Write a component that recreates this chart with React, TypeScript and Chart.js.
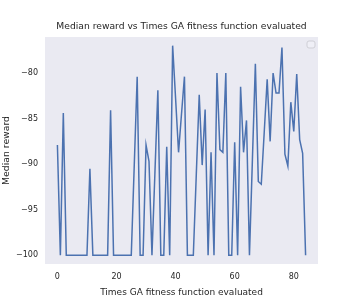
import React, { useEffect, useRef } from "react";
import { Chart, registerables } from "chart.js";

Chart.register(...registerables);

const TITLE = "Median reward vs Times GA fitness function evaluated";
const X_LABEL = "Times GA fitness function evaluated";
const Y_LABEL = "Median reward";
const X_TICKS = [0, 20, 40, 60, 80];
const Y_TICKS = [-100, -95, -90, -85, -80];
const Y_RANGE = [-100.95, -76.05];
const MEDIAN_REWARD = [
  -87.9, -100, -84.4, -100, -100, -100, -100, -100, -100, -100,
  -100, -90.5, -100, -100, -100, -100, -100, -100, -84.1, -100,
  -100, -100, -100, -100, -100, -100, -90.2, -80.4, -100, -100,
  -87.9, -89.7, -100, -91.0, -81.9, -100, -100, -88.1, -100, -77.0,
  -82.8, -88.7, -84.5, -80.4, -100, -100, -100, -91.2, -82.4, -90.1,
  -84.0, -100, -88.7, -100, -80.0, -88.4, -88.7, -80.0, -100, -100,
  -87.6, -100, -81.5, -88.7, -85.2, -100, -89.5, -79.0, -91.9, -92.2,
  -86.5, -80.7, -87.5, -80.0, -82.2, -82.2, -77.2, -88.9, -90.2, -83.2,
  -86.4, -80.1, -87.3, -88.8, -100,
];

const FONT = "'DejaVu Sans', sans-serif";
const TEXT = "#262626";

export default function App() {
  const ref = useRef<HTMLCanvasElement | null>(null);

  useEffect(() => {
    const canvas = ref.current;
    if (!canvas) return;
    const xSpan = MEDIAN_REWARD.length - 1;

    const bgPlugin = {
      id: "bg",
      beforeDraw(chart: any) {
        const { ctx, chartArea } = chart;
        ctx.save();
        ctx.fillStyle = "#EAEAF2";
        ctx.fillRect(chartArea.left, chartArea.top, chartArea.right - chartArea.left, chartArea.bottom - chartArea.top);
        ctx.restore();
      },
      afterDraw(chart: any) {
        const { ctx, chartArea } = chart;
        ctx.save();
        // title centred over the plot area
        ctx.fillStyle = TEXT;
        ctx.font = `9.2px ${FONT}`;
        ctx.textAlign = "center";
        ctx.textBaseline = "middle";
        ctx.fillText(TITLE, (chartArea.left + chartArea.right) / 2, 26.5);
        // empty legend frame (upper right)
        const w = 8, h = 7;
        const x = chartArea.right - 11;
        const y = chartArea.top + 4;
        ctx.beginPath();
        ctx.roundRect(x, y, w, h, 2);
        ctx.fillStyle = "rgba(240,240,246,0.9)";
        ctx.fill();
        ctx.strokeStyle = "#cfcfd6";
        ctx.lineWidth = 1;
        ctx.stroke();
        ctx.restore();
      },
    };

    const chart = new Chart(canvas, {
      type: "line",
      data: {
        datasets: [
          {
            data: MEDIAN_REWARD.map((v, i) => ({ x: i, y: v })),
            borderColor: "#4C72B0",
            borderWidth: 1.5,
            pointRadius: 0,
            tension: 0,
            fill: false,
          },
        ],
      },
      options: {
        animation: false,
        responsive: false,
        devicePixelRatio: 1,
        layout: { padding: { left: 0, right: 36, top: 37, bottom: 0 } },
        plugins: {
          legend: { display: false },
          tooltip: { enabled: false },
          title: { display: false },
        },
        scales: {
          x: {
            type: "linear",
            min: -0.05 * xSpan,
            max: xSpan * 1.05,
            grid: { display: false, drawTicks: false },
            border: { display: false },
            afterBuildTicks(scale: any) {
              scale.ticks = X_TICKS.map((v) => ({ value: v }));
            },
            afterFit(scale: any) {
              scale.height = 35;
            },
            ticks: {
              color: TEXT,
              font: { family: FONT, size: 8 },
              padding: 8.5,
              maxRotation: 0,
            },
            title: {
              display: true,
              text: X_LABEL,
              color: TEXT,
              font: { family: FONT, size: 9 },
              padding: { top: 0, bottom: 1.2 },
            },
          },
          y: {
            type: "linear",
            min: Y_RANGE[0],
            max: Y_RANGE[1],
            grid: { display: false, drawTicks: false },
            border: { display: false },
            afterBuildTicks(scale: any) {
              scale.ticks = Y_TICKS.map((v) => ({ value: v }));
            },
            afterFit(scale: any) {
              scale.width = 45;
            },
            ticks: {
              color: TEXT,
              font: { family: FONT, size: 8 },
              padding: 7,
              callback: (v: any) => String(v).replace("-", "\u2212"),
            },
            title: {
              display: true,
              text: Y_LABEL,
              color: TEXT,
              font: { family: FONT, size: 9.3 },
              padding: { top: 0.6, bottom: 0 },
            },
          },
        },
      },
      plugins: [bgPlugin],
    } as any);

    return () => chart.destroy();
  }, []);

  return (
    <div style={{ position: "fixed", left: 0, top: 0, width: 354, height: 299, background: "#fff" }}>
      <canvas ref={ref} width={354} height={299} style={{ width: 354, height: 299, display: "block" }} />
    </div>
  );
}
